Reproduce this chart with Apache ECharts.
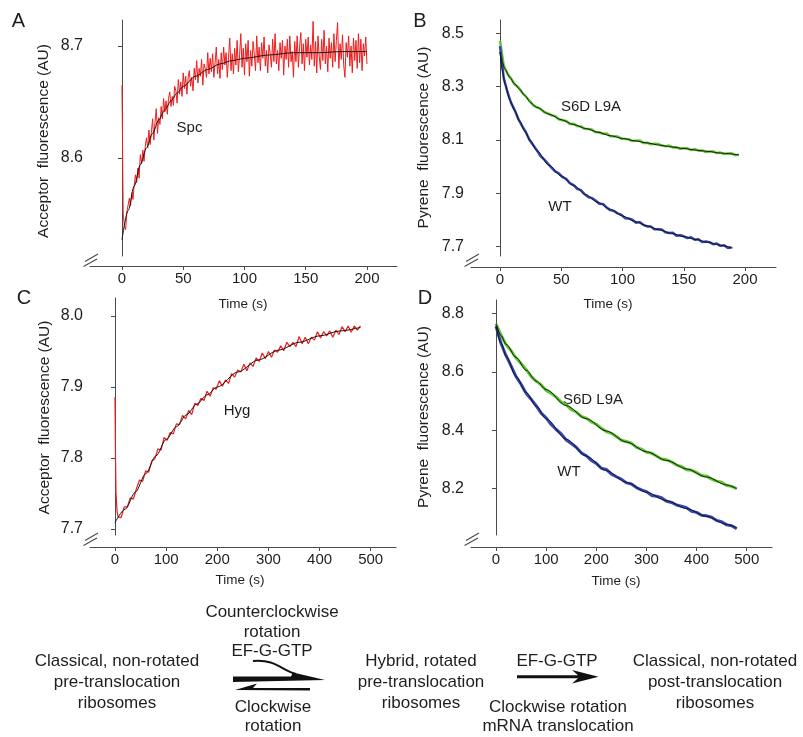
<!DOCTYPE html>
<html>
<head>
<meta charset="utf-8">
<script src="https://cdn.jsdelivr.net/npm/echarts@6/dist/echarts.min.js"></script>
<style>
  html, body { margin: 0; padding: 0; background: #fff; }
  #chart { width: 803px; height: 737px; }
</style>
</head>
<body>
<div id="chart"></div>
<script>
// ---- Data ----

// Panel A (Spc): acceptor trace, 1 s steps from t = 2 to 200, plus injection spike
const spcSpikeTime = [0, 1];
const spcSpikeValue = [8.665, 8.55];
const spcTraceStart = 2;
const spcTraceStep = 1;
const spcTrace = [
    8.539, 8.536, 8.552, 8.551, 8.564, 8.557, 8.569, 8.563, 8.576, 8.585,
    8.578, 8.591, 8.582, 8.603, 8.595, 8.607, 8.597, 8.610, 8.618, 8.609,
    8.625, 8.612, 8.623, 8.635, 8.616, 8.632, 8.644, 8.622, 8.636, 8.630,
    8.646, 8.635, 8.653, 8.641, 8.651, 8.639, 8.653, 8.659, 8.646, 8.655,
    8.647, 8.664, 8.660, 8.649, 8.670, 8.657, 8.668, 8.655, 8.676, 8.662,
    8.673, 8.657, 8.672, 8.678, 8.664, 8.672, 8.660, 8.680, 8.670, 8.687,
    8.667, 8.680, 8.673, 8.688, 8.665, 8.684, 8.680, 8.672, 8.694, 8.675,
    8.689, 8.677, 8.693, 8.672, 8.685, 8.699, 8.675, 8.688, 8.671, 8.694,
    8.679, 8.699, 8.683, 8.694, 8.672, 8.690, 8.707, 8.678, 8.693, 8.675,
    8.698, 8.683, 8.705, 8.677, 8.692, 8.711, 8.681, 8.698, 8.674, 8.702,
    8.686, 8.705, 8.673, 8.696, 8.682, 8.704, 8.693, 8.678, 8.709, 8.685,
    8.699, 8.678, 8.703, 8.689, 8.708, 8.682, 8.696, 8.676, 8.701, 8.693,
    8.681, 8.706, 8.686, 8.711, 8.684, 8.696, 8.678, 8.703, 8.689, 8.705,
    8.674, 8.700, 8.688, 8.706, 8.681, 8.709, 8.686, 8.695, 8.672, 8.704,
    8.686, 8.709, 8.681, 8.699, 8.712, 8.684, 8.702, 8.678, 8.706, 8.690,
    8.708, 8.683, 8.701, 8.688, 8.722, 8.682, 8.704, 8.676, 8.709, 8.691,
    8.679, 8.706, 8.687, 8.714, 8.684, 8.700, 8.677, 8.707, 8.689, 8.703,
    8.681, 8.711, 8.686, 8.705, 8.721, 8.680, 8.702, 8.688, 8.710, 8.683,
    8.672, 8.703, 8.690, 8.709, 8.682, 8.700, 8.676, 8.707, 8.687, 8.705,
    8.680, 8.711, 8.685, 8.706, 8.678, 8.702, 8.691, 8.708, 8.684
];
const spcFitTime = [0, 5, 10, 15, 20, 25, 30, 35, 40, 45, 50, 60, 70, 80, 90, 100, 120, 140, 160, 180, 200];
const spcFitValue = [8.527, 8.553, 8.575, 8.594, 8.609, 8.622, 8.634, 8.643, 8.651, 8.658, 8.664, 8.673, 8.679, 8.684, 8.687, 8.689, 8.692, 8.694, 8.694, 8.695, 8.695];

// Panel B: pyrene traces, 3 s steps
const bTraceStep = 3;
const bWtTrace = [
    8.452, 8.333, 8.281, 8.239, 8.212, 8.178, 8.153, 8.130, 8.101, 8.081,
    8.062, 8.040, 8.027, 8.012, 7.996, 7.982, 7.975, 7.961, 7.954, 7.938,
    7.931, 7.917, 7.912, 7.897, 7.886, 7.882, 7.873, 7.861, 7.860, 7.847,
    7.837, 7.834, 7.825, 7.820, 7.807, 7.806, 7.801, 7.790, 7.792, 7.782,
    7.776, 7.776, 7.765, 7.765, 7.764, 7.754, 7.751, 7.752, 7.741, 7.743,
    7.739, 7.732, 7.735, 7.726, 7.728, 7.717, 7.719, 7.717, 7.709, 7.712,
    7.703, 7.705, 7.695, 7.697
];
const bMutTrace = [
    8.472, 8.379, 8.349, 8.330, 8.308, 8.298, 8.278, 8.263, 8.248, 8.230,
    8.223, 8.217, 8.205, 8.200, 8.192, 8.190, 8.178, 8.174, 8.171, 8.160,
    8.161, 8.152, 8.151, 8.142, 8.141, 8.139, 8.129, 8.129, 8.123, 8.124,
    8.114, 8.114, 8.113, 8.105, 8.104, 8.103, 8.096, 8.097, 8.098, 8.089,
    8.090, 8.084, 8.086, 8.085, 8.079, 8.076, 8.079, 8.072, 8.073, 8.067,
    8.069, 8.069, 8.062, 8.066, 8.060, 8.061, 8.055, 8.057, 8.057, 8.051,
    8.053, 8.047, 8.049, 8.050, 8.043, 8.045
];
const bWtFitTime = [0, 2, 4, 8, 12, 16, 20, 25, 30, 40, 50, 60, 70, 80, 90, 100, 110, 120, 130, 140, 150, 160, 170, 180, 190];
const bWtFitValue = [8.43, 8.36, 8.31, 8.25, 8.21, 8.17, 8.135, 8.095, 8.06, 8.005, 7.965, 7.93, 7.895, 7.866, 7.84, 7.815, 7.795, 7.778, 7.763, 7.75, 7.738, 7.727, 7.716, 7.705, 7.695];
const bMutFitTime = [0, 2, 4, 8, 12, 16, 20, 25, 30, 40, 50, 60, 70, 80, 90, 100, 110, 120, 130, 140, 150, 160, 170, 180, 195];
const bMutFitValue = [8.43, 8.39, 8.365, 8.335, 8.31, 8.29, 8.268, 8.24, 8.222, 8.197, 8.176, 8.158, 8.143, 8.129, 8.116, 8.106, 8.097, 8.089, 8.081, 8.074, 8.068, 8.062, 8.057, 8.051, 8.044];

// Panel C (Hyg): acceptor trace, 6 s steps from t = 6 to 480, plus injection spike
const hygSpikeTime = [0, 1, 2, 4];
const hygSpikeValue = [7.886, 7.80, 7.75, 7.725];
const hygTraceStart = 6;
const hygTraceStep = 6;
const hygTrace = [
    7.717, 7.716, 7.731, 7.731, 7.744, 7.742, 7.757, 7.769, 7.767, 7.782,
    7.780, 7.796, 7.799, 7.813, 7.811, 7.829, 7.825, 7.836, 7.834, 7.848,
    7.847, 7.860, 7.855, 7.867, 7.861, 7.877, 7.874, 7.884, 7.881, 7.894,
    7.887, 7.899, 7.897, 7.909, 7.901, 7.910, 7.905, 7.919, 7.914, 7.924,
    7.921, 7.932, 7.923, 7.934, 7.929, 7.941, 7.936, 7.948, 7.940, 7.950,
    7.942, 7.952, 7.949, 7.958, 7.951, 7.963, 7.957, 7.963, 7.957, 7.971,
    7.961, 7.970, 7.961, 7.970, 7.966, 7.978, 7.969, 7.978, 7.972, 7.979,
    7.970, 7.980, 7.974, 7.985, 7.978, 7.986, 7.977, 7.986, 7.980, 7.986
];
const hygFitTime = [0, 20, 40, 60, 80, 100, 120, 140, 160, 180, 200, 240, 280, 320, 360, 400, 440, 480];
const hygFitValue = [7.709, 7.728, 7.752, 7.778, 7.803, 7.826, 7.844, 7.861, 7.876, 7.889, 7.900, 7.921, 7.938, 7.952, 7.963, 7.972, 7.979, 7.984];

// Panel D: pyrene traces, 10 s steps
const dTraceStep = 10;
const dWtTrace = [
    8.757, 8.698, 8.656, 8.621, 8.584, 8.558, 8.527, 8.507, 8.485, 8.459,
    8.443, 8.420, 8.403, 8.388, 8.367, 8.355, 8.342, 8.323, 8.313, 8.297,
    8.287, 8.270, 8.266, 8.250, 8.241, 8.233, 8.220, 8.216, 8.204, 8.196,
    8.190, 8.177, 8.174, 8.169, 8.157, 8.153, 8.144, 8.140, 8.135, 8.123,
    8.119, 8.109, 8.107, 8.102, 8.091, 8.087, 8.076, 8.073, 8.063
];
const dMutTrace = [
    8.765, 8.727, 8.694, 8.674, 8.648, 8.629, 8.609, 8.585, 8.569, 8.556,
    8.537, 8.527, 8.514, 8.497, 8.488, 8.471, 8.463, 8.448, 8.442, 8.429,
    8.421, 8.407, 8.396, 8.390, 8.379, 8.366, 8.362, 8.356, 8.342, 8.336,
    8.325, 8.322, 8.312, 8.302, 8.299, 8.292, 8.281, 8.276, 8.265, 8.263,
    8.255, 8.245, 8.243, 8.233, 8.226, 8.222, 8.211, 8.208, 8.200
];
const dFitTime = [0, 10, 20, 40, 60, 80, 100, 140, 180, 220, 260, 300, 340, 380, 420, 460, 480];
const dWtFitValue = [8.757, 8.70, 8.655, 8.585, 8.530, 8.483, 8.44, 8.37, 8.312, 8.262, 8.222, 8.188, 8.159, 8.132, 8.105, 8.078, 8.065];
const dMutFitValue = [8.765, 8.725, 8.695, 8.65, 8.606, 8.569, 8.54, 8.485, 8.440, 8.398, 8.360, 8.327, 8.297, 8.268, 8.24, 8.213, 8.20];

// Tick labels
const shortTimeTicks = [0, 50, 100, 150, 200];
const longTimeTicks = [0, 100, 200, 300, 400, 500];
const aTicks = [8.6, 8.7];
const bTicks = [7.7, 7.9, 8.1, 8.3, 8.5];
const cTicks = [7.7, 7.8, 7.9, 8.0];
const dTicks = [8.2, 8.4, 8.6, 8.8];

// ---- Helpers ----
const FONT = '"Liberation Sans", Arial, sans-serif';
const AXIS_COLOR = '#4a4a4a';
const TEXT_COLOR = '#1e1e1e';
const RED = '#f01c1c';
const BLUE = '#3447b4';
const GREEN = '#5ec72e';

const pairs = (t, v) => t.map((x, i) => [x, v[i]]);
const stepped = (start, step, v) => v.map((y, i) => [start + i * step, y]);

function xAxisFor(grid, min, max, ticks, offset) {
    return {
        type: 'value', gridIndex: grid, min: min, max: max, offset: offset,
        axisLine: { lineStyle: { color: AXIS_COLOR, width: 1 } },
        axisTick: { customValues: ticks, length: 4, lineStyle: { color: AXIS_COLOR } },
        axisLabel: { customValues: ticks, fontSize: 15, color: TEXT_COLOR, fontFamily: FONT, margin: 5 },
        splitLine: { show: false }
    };
}

function yAxisFor(grid, min, max, ticks) {
    return {
        type: 'value', gridIndex: grid, min: min, max: max,
        axisLine: { show: true, lineStyle: { color: AXIS_COLOR, width: 1 } },
        axisTick: { show: true, customValues: ticks, length: 4, lineStyle: { color: AXIS_COLOR } },
        axisLabel: {
            customValues: ticks, fontSize: 16, color: TEXT_COLOR, fontFamily: FONT, margin: 7,
            formatter: v => v.toFixed(1)
        },
        splitLine: { show: false }
    };
}

function trace(axis, data, color, width, z) {
    return {
        type: 'line', xAxisIndex: axis, yAxisIndex: axis, data: data,
        symbol: 'none', silent: true, z: z,
        lineStyle: { color: color, width: width }
    };
}

function fit(axis, data) {
    return {
        type: 'line', xAxisIndex: axis, yAxisIndex: axis, data: data,
        symbol: 'none', silent: true, z: 5, smooth: 0.3, smoothMonotone: 'x',
        lineStyle: { color: '#151515', width: 1 }
    };
}

function label(x, y, text, size, lineHeight, extra) {
    return Object.assign({
        type: 'text', x: x, y: y, silent: true,
        style: {
            text: text, font: size + 'px ' + FONT, fill: TEXT_COLOR,
            textAlign: 'center', textVerticalAlign: 'middle', lineHeight: lineHeight || 21
        }
    }, extra || {});
}

function breakMark(ax, gb) {
    const st = { stroke: AXIS_COLOR, lineWidth: 1.1 };
    return [
        { type: 'line', silent: true, shape: { x1: ax - 5, y1: gb + 5.5, x2: ax + 8, y2: gb - 2 }, style: st },
        { type: 'line', silent: true, shape: { x1: ax - 6.5, y1: gb + 10.5, x2: ax + 7, y2: gb + 3 }, style: st }
    ];
}

const yName = { rotation: Math.PI / 2 };

// ---- Chart ----
const chart = echarts.init(document.getElementById('chart'), null, { renderer: 'canvas' });

const option = {
    animation: false,
    backgroundColor: '#ffffff',
    grid: [
        { left: 90, top: 20, width: 307, height: 236 },
        { left: 471, top: 20, width: 305, height: 236 },
        { left: 90, top: 298, width: 306, height: 237 },
        { left: 471, top: 300, width: 301, height: 235 }
    ],
    xAxis: [
        xAxisFor(0, -26.1, 224.5, shortTimeTicks, 10),
        xAxisFor(1, -23.7, 225.3, shortTimeTicks, 11),
        xAxisFor(2, -48.9, 549.5, longTimeTicks, 12),
        xAxisFor(3, -49.9, 550.4, longTimeTicks, 12)
    ],
    yAxis: [
        yAxisFor(0, 8.5125, 8.7232, aTicks),
        yAxisFor(1, 7.665, 8.5499, bTicks),
        yAxisFor(2, 7.6915, 8.0254, cTicks),
        yAxisFor(3, 8.0413, 8.847, dTicks)
    ],
    series: [
        // A
        trace(0, pairs(spcSpikeTime, spcSpikeValue).concat(stepped(spcTraceStart, spcTraceStep, spcTrace)), RED, 1, 2),
        fit(0, pairs(spcFitTime, spcFitValue)),
        // B
        trace(1, stepped(0, bTraceStep, bMutTrace), GREEN, 2.5, 2),
        trace(1, stepped(0, bTraceStep, bWtTrace), BLUE, 2.5, 2),
        fit(1, pairs(bMutFitTime, bMutFitValue)),
        fit(1, pairs(bWtFitTime, bWtFitValue)),
        // C
        trace(2, pairs(hygSpikeTime, hygSpikeValue).concat(stepped(hygTraceStart, hygTraceStep, hygTrace)), RED, 1.2, 2),
        fit(2, pairs(hygFitTime, hygFitValue)),
        // D
        trace(3, stepped(0, dTraceStep, dMutTrace), GREEN, 3, 2),
        trace(3, stepped(0, dTraceStep, dWtTrace), BLUE, 3, 2),
        fit(3, pairs(dFitTime, dMutFitValue)),
        fit(3, pairs(dFitTime, dWtFitValue))
    ],
    graphic: [
        // panel letters
        label(18.5, 21.5, 'A', 20),
        label(420, 21.5, 'B', 20),
        label(24, 298, 'C', 20),
        label(425, 298, 'D', 20),
        // axis names
        label(243, 304, 'Time (s)', 13.5),
        label(608, 304, 'Time (s)', 13.5),
        label(240, 580, 'Time (s)', 13.5),
        label(616, 581, 'Time (s)', 13.5),
        label(43.5, 141, 'Acceptor  fluorescence (AU)', 15.5, 0, yName),
        label(423.5, 137.5, 'Pyrene  fluorescence (AU)', 15.5, 0, yName),
        label(45, 417.5, 'Acceptor  fluorescence (AU)', 15.5, 0, yName),
        label(423.5, 417, 'Pyrene  fluorescence (AU)', 15.5, 0, yName),
        // curve labels
        label(189.5, 127.5, 'Spc', 15),
        label(591, 106.5, 'S6D L9A', 15),
        label(560, 206.5, 'WT', 15),
        label(237, 411, 'Hyg', 15),
        label(593, 400, 'S6D L9A', 15),
        label(569, 471.5, 'WT', 15),
        // scheme text
        label(117, 682.5, 'Classical, non-rotated\npre-translocation\nribosomes', 17, 21),
        label(272, 632, 'Counterclockwise\nrotation\nEF-G-GTP', 17, 19.5),
        label(273, 717, 'Clockwise\nrotation', 17, 19),
        label(421, 682.5, 'Hybrid, rotated\npre-translocation\nribosomes', 17, 21),
        label(557, 661.5, 'EF-G-GTP', 17),
        label(558, 717, 'Clockwise rotation\nmRNA translocation', 17, 19),
        label(715, 682.5, 'Classical, non-rotated\npost-translocation\nribosomes', 17, 21),
        // scheme arrows
        { type: 'polygon', silent: true, shape: { points: [[233, 676.5], [291, 676.5], [293, 672.5], [325, 680], [233, 682]] }, style: { fill: '#111' } },
        { type: 'bezierCurve', silent: true, shape: { x1: 253, y1: 661, cpx1: 276, cpy1: 659, cpx2: 281, cpy2: 670, x2: 296, y2: 674 }, style: { stroke: '#111', lineWidth: 2, fill: null } },
        { type: 'polygon', silent: true, shape: { points: [[235, 690], [257, 683.5], [253, 688], [310, 688], [310, 690.5]] }, style: { fill: '#111' } },
        { type: 'polygon', silent: true, shape: { points: [[517, 675.2], [578, 675.2], [572, 670], [598.5, 676.7], [572, 683.4], [578, 678.2], [517, 678.2]] }, style: { fill: '#111' } }
    ].concat(breakMark(90, 256), breakMark(471, 256), breakMark(90, 535), breakMark(471, 535))
};

chart.setOption(option);
</script>
</body>
</html>
